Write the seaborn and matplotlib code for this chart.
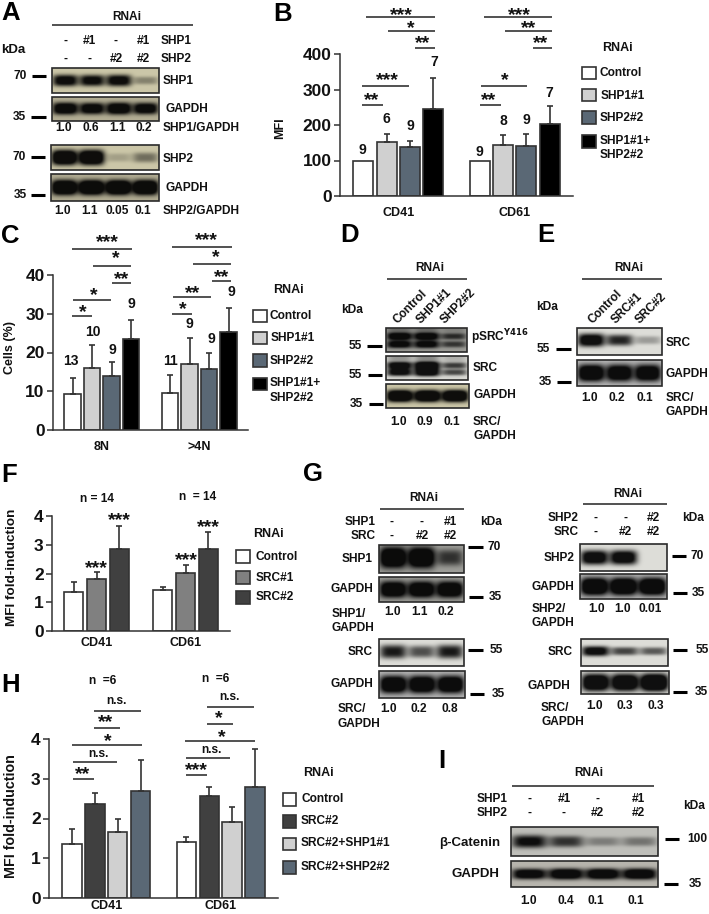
import numpy as np
import pandas as pd
import matplotlib
matplotlib.use('Agg')
import matplotlib.pyplot as plt
from matplotlib.patches import Rectangle
import seaborn as sns

# bar panels
B_GROUPS = ['CD41', 'CD61']
B_RNAI = ['Control', 'SHP1#1', 'SHP2#2', 'SHP1#1+SHP2#2']
B_MEAN = [[100, 152, 139, 246], [100, 145, 141, 203]]
B_TOP = [[100, 176, 156, 331], [100, 172, 174, 253]]

C_GROUPS = ['8N', '>4N']
C_MEAN = [[9.2, 15.9, 13.9, 23.4], [9.5, 17.0, 15.8, 25.3]]
C_TOP = [[13.4, 21.9, 17.5, 28.3], [14.1, 23.7, 20.0, 31.6]]

F_RNAI = ['Control', 'SRC#1', 'SRC#2']
F_MEAN = [[1.35, 1.82, 2.85], [1.42, 2.02, 2.85]]
F_TOP = [[1.72, 2.06, 3.66], [1.52, 2.30, 3.45]]

H_RNAI = ['Control', 'SRC#2', 'SRC#2+SHP1#1', 'SRC#2+SHP2#2']
H_MEAN = [[1.36, 2.36, 1.65, 2.68], [1.42, 2.56, 1.90, 2.80]]
H_TOP = [[1.74, 2.63, 1.99, 3.48], [1.53, 2.78, 2.29, 3.76]]

# band strength per lane, read by eye from the blots
A_SHP1 = [1.1, 1.05, 1.1, 0.35]
A_GAPDH1 = [1.3, 1.2, 1.3, 1.2]
A_SHP2 = [1.5, 1.5, 0.2, 0.45]
A_GAPDH2 = [1.6, 1.6, 1.6, 1.6]
D_PSRC = [1.0, 1.0, 0.6]
D_SRC = [0.95, 1.1, 0.6]
D_GAPDH = [1.5, 1.5, 1.5]
E_SRC = [1.2, 0.85, 0.3]
E_GAPDH = [1.4, 1.3, 1.3]
G1_SHP1 = [1.5, 1.5, 0.7]
G1_GAPDH1 = [1.4, 1.4, 1.4]
G1_SRC = [0.9, 0.65, 0.9]
G1_GAPDH2 = [1.4, 1.4, 1.4]
G2_SHP2 = [1.2, 1.2, 0.0]
G2_GAPDH1 = [1.5, 1.5, 1.5]
G2_SRC = [1.1, 0.7, 0.6]
G2_GAPDH2 = [1.4, 1.4, 1.6]
I_CAT = [1.0, 0.75, 0.35, 0.4]
I_GAPDH = [1.2, 1.3, 1.3, 1.3]

WIDTH, HEIGHT = 709, 914
sns.set_theme(style='ticks')
plt.rcParams['font.family'] = ['Liberation Sans', 'DejaVu Sans']
plt.rcParams['font.weight'] = 'bold'
plt.rcParams['axes.labelweight'] = 'bold'

fig = plt.figure(figsize=(WIDTH / 100, HEIGHT / 100), dpi=100, facecolor='white')
ov = fig.add_axes([0, 0, 1, 1], zorder=5)
ov.patch.set_alpha(0)
ov.axis('off')

DARK = '#333333'
BLUE = '#5a6875'
LIGHT = '#d0d0d0'


def bar_panel(x0, x1, y_top, y_bot, groups, names, means, tops, colors, ymax, ticks,
              ylabel, ylab_x, ylab_y, ylab_size=9, xpad=8, width=0.8, gap=0.15):
    ax = fig.add_axes([x0 / WIDTH, 1 - y_bot / HEIGHT, (x1 - x0) / WIDTH, (y_bot - y_top) / HEIGHT])
    ax.patch.set_alpha(0)
    rows = []
    for g, ms in zip(groups, means):
        for n, m in zip(names, ms):
            rows.append({'group': g, 'rnai': n, 'value': m})
    df = pd.DataFrame(rows)
    sns.barplot(data=df, x='group', y='value', hue='rnai', hue_order=names, palette=colors,
                saturation=1, edgecolor=DARK, linewidth=1.2, width=width, gap=gap,
                legend=False, ax=ax)
    for k, cont in enumerate(list(ax.containers)):
        for j, bar in enumerate(cont):
            h = bar.get_height()
            up = tops[j][k] - h
            if up > 0:
                ax.errorbar(bar.get_x() + bar.get_width() / 2, h, yerr=[[0], [up]], color=DARK,
                            lw=1.2, capsize=2.4, capthick=1.2)
    ax.set_xlim(-0.5, 1.5)
    ax.set_ylim(0, ymax)
    ax.set_yticks(ticks)
    ax.set_xlabel('')
    ax.set_ylabel('')
    ax.tick_params(axis='y', labelsize=12.5, length=4, width=1.1, pad=2, color=DARK, labelcolor='#111111')
    ax.tick_params(axis='x', labelsize=9, length=0, pad=xpad, labelcolor='#111111')
    sns.despine(ax=ax)
    for s in ['left', 'bottom']:
        ax.spines[s].set_linewidth(1.1)
        ax.spines[s].set_color(DARK)
    ov.text(ylab_x, ylab_y, ylabel, rotation=90, ha='center', va='center', fontsize=ylab_size, color='#111111')
    return ax


def label(x, y, s, ha='left', size=8.6, **kw):
    ov.text(x, y, s, ha=ha, va='center', fontsize=size, color='#111111', **kw)


def letter(x, y, s):
    # y is the middle of the capital
    ov.text(x, y + 9, s, ha='left', va='baseline', fontsize=18.5, color='black')


def hline(x0, x1, y, lw=1.1):
    ov.plot([x0, x1], [y, y], color='#222222', lw=lw, solid_capstyle='butt')


def stars(x, y, s):
    ov.text(x, y + 3, s, ha='center', va='center', fontsize=14, color='#111111')


def sig(x0, x1, y, s, sx, sy):
    hline(x0, x1, y)
    if s == 'n.s.':
        ov.text(sx, sy, s, ha='center', va='center', fontsize=8.6, color='#111111')
    else:
        stars(sx, sy, s)


def swatches(x0, x1, boxes, colors):
    for (y0, y1), c in zip(boxes, colors):
        ov.add_patch(Rectangle((x0, y0), x1 - x0, y1 - y0, fc=c, ec=DARK, lw=1.2))


def marker(x0, x1, y, s, tx):
    ov.plot([x0, x1], [y, y], color='black', lw=2.2, solid_capstyle='butt')
    label(tx, y, s, ha='center')


def blot(x0, x1, y0, y1, strengths, tint=(0.85, 0.85, 0.85), rows=(0.5,), thick=0.22, smear=0.0):
    w, h = max(int(x1 - x0) * 2, 2), max(int(y1 - y0) * 2, 2)
    xx, yy = np.meshgrid((np.arange(w) + 0.5) / w, (np.arange(h) + 0.5) / h)
    dark = np.zeros((h, w))
    n = len(strengths)
    for i, s in enumerate(strengths):
        c = (i + 0.5) / n
        across = np.exp(-(np.abs(xx - c) / (0.47 / n)) ** 4)
        for r in rows:
            t = thick * (0.6 + 0.5 * min(s, 1.3))
            dark += s * across * np.exp(-(np.abs(yy - r) / t) ** 3)
        if smear:
            dark += smear * s * across * np.clip(1.1 - yy, 0, 1)
    val = 1 - np.clip(dark, 0, 0.93)
    img = np.dstack([val * t for t in tint])
    ov.imshow(img, extent=[x0, x1, y1, y0], aspect='auto', interpolation='bilinear', zorder=1)
    ov.add_patch(Rectangle((x0, y0), x1 - x0, y1 - y0, fc='none', ec='#2a2a2a', lw=1.2, zorder=2))


def row_text(xs, y, items):
    for x, s in zip(xs, items):
        label(x, y, s, ha='center')


KHAKI = (0.80, 0.78, 0.66)
OLIVE = (0.70, 0.68, 0.58)
PALE = (0.87, 0.87, 0.85)
GREY = (0.72, 0.72, 0.72)
MID = (0.62, 0.62, 0.60)

# ---- A
letter(1, 11, 'A')
label(127, 17, 'RNAi', ha='center')
hline(52, 193, 25)
row_text([65, 89, 116, 143], 41, ['-', '#1', '-', '#1'])
row_text([65, 89, 116, 143], 59, ['-', '-', '#2', '#2'])
label(161, 41, 'SHP1')
label(161, 59, 'SHP2')
label(1, 50, 'kDa', size=9.5)
blot(52, 159, 68, 93, A_SHP1, KHAKI, thick=0.2)
blot(52, 159, 97, 121, A_GAPDH1, OLIVE, rows=(0.48,), thick=0.2)
blot(51, 159, 145, 170, A_SHP2, KHAKI, thick=0.24)
blot(51, 159, 174, 201, A_GAPDH2, OLIVE, thick=0.22)
marker(32, 46, 76, '70', 20)
marker(31, 46, 117, '35', 19)
marker(31, 45, 157, '70', 19)
marker(31, 45, 195, '35', 20)
label(163, 81, 'SHP1')
label(165, 109, 'GAPDH')
label(163, 159, 'SHP2')
label(165, 188, 'GAPDH')
row_text([64, 91, 117, 144], 128, ['1.0', '0.6', '1.1', '0.2'])
label(163, 128, 'SHP1/GAPDH')
row_text([63, 89, 117, 143], 211, ['1.0', '1.1', '0.05', '0.1'])
label(163, 211, 'SHP2/GAPDH')

# ---- B
letter(273, 12, 'B')
bar_panel(340, 573, 54, 196, B_GROUPS, B_RNAI, B_MEAN, B_TOP, ['white', LIGHT, BLUE, 'black'],
          400, [0, 100, 200, 300, 400], 'MFI', 280, 128)
sig(366, 435, 17, '***', 401, 13)
sig(388, 435, 31, '*', 411, 26)
sig(415, 435, 48, '**', 423, 41)
sig(362, 409, 86, '***', 387, 78)
sig(362, 383, 105, '**', 372, 98)
sig(484, 552, 17, '***', 519, 13)
sig(505, 552, 31, '**', 529, 26)
sig(533, 552, 48, '**', 541, 41)
sig(481, 527, 86, '*', 505, 78)
sig(480, 501, 105, '**', 489, 98)
for x, y, s in [(362, 150, '9'), (386, 119, '6'), (410, 126, '9'), (434, 62, '7'),
                (479, 152, '9'), (503, 121, '8'), (526, 120, '9'), (549, 93, '7')]:
    label(x, y, s, ha='center', size=10)
label(617, 48, 'RNAi', ha='center', size=9)
swatches(582, 596, [(67, 79), (89, 101), (111, 124), (135, 148)], ['white', LIGHT, BLUE, 'black'])
label(600, 73, 'Control')
label(601, 96, 'SHP1#1')
label(600, 118, 'SHP2#2')
label(600, 141, 'SHP1#1+')
label(600, 155, 'SHP2#2')

# ---- C
letter(1, 234, 'C')
bar_panel(53, 248, 275, 430, C_GROUPS, B_RNAI, C_MEAN, C_TOP, ['white', LIGHT, BLUE, 'black'],
          40, [0, 10, 20, 30, 40], 'Cells (%)', 10, 347)
sig(72, 132, 249, '***', 107, 240)
sig(93, 131, 266, '*', 116, 256)
sig(112, 131, 283, '**', 122, 277)
sig(73, 111, 300, '*', 94, 293)
sig(72, 92, 316, '*', 83, 310)
sig(172, 232, 247, '***', 206, 238)
sig(193, 231, 264, '*', 216, 255)
sig(212, 231, 281, '**', 222, 275)
sig(173, 211, 297, '**', 193, 291)
sig(172, 192, 314, '*', 183, 307)
for x, y, s in [(71, 361, '13'), (93, 332, '10'), (112, 350, '9'), (131, 304, '9'),
                (171, 361, '11'), (189, 324, '9'), (211, 339, '9'), (231, 292, '9')]:
    label(x, y, s, ha='center', size=10)
label(288, 290, 'RNAi', ha='center', size=9)
swatches(253, 267, [(310, 322), (332, 344), (354, 367), (378, 390)], ['white', LIGHT, BLUE, 'black'])
label(270, 316, 'Control')
label(271, 338, 'SHP1#1')
label(270, 361, 'SHP2#2')
label(270, 383, 'SHP1#1+')
label(270, 398, 'SHP2#2')

# ---- D
letter(340, 233, 'D')
label(430, 268, 'RNAi', ha='center')
hline(387, 467, 279)
for x, s in zip([395, 419, 443], ['Control', 'SHP1#1', 'SHP2#2']):
    ov.text(x, 322, s, rotation=45, rotation_mode='anchor', ha='left', va='center', fontsize=8.6, color='#111111')
label(352, 310, 'kDa', ha='center')
blot(386, 467, 328, 352, D_PSRC, MID, rows=(0.35, 0.68), thick=0.14, smear=0.35)
blot(386, 468, 356, 380, D_SRC, PALE, rows=(0.4, 0.68), thick=0.14, smear=0.35)
blot(386, 469, 384, 408, D_GAPDH, KHAKI, thick=0.2)
marker(367, 382, 346, '55', 355)
marker(368, 382, 375, '55', 355)
marker(369, 383, 404, '35', 356)
label(471, 337, 'pSRC$^{\\mathbf{Y416}}$')
label(473, 368, 'SRC')
label(473, 395, 'GAPDH')
row_text([399, 425, 452], 422, ['1.0', '0.9', '0.1'])
label(473, 422, 'SRC/')
label(473, 436, 'GAPDH')

# ---- E
letter(537, 233, 'E')
label(629, 268, 'RNAi', ha='center')
hline(582, 662, 279)
for x, s in zip([590, 614, 638], ['Control', 'SRC#1', 'SRC#2']):
    ov.text(x, 322, s, rotation=45, rotation_mode='anchor', ha='left', va='center', fontsize=8.6, color='#111111')
label(547, 307, 'kDa', ha='center')
blot(577, 662, 328, 355, E_SRC, PALE, rows=(0.45,), thick=0.2)
blot(577, 662, 360, 386, E_GAPDH, GREY, thick=0.26)
marker(556, 571, 349, '55', 543)
marker(557, 571, 382, '35', 545)
label(666, 343, 'SRC')
label(666, 374, 'GAPDH')
row_text([590, 617, 645], 398, ['1.0', '0.2', '0.1'])
label(666, 398, 'SRC/')
label(666, 412, 'GAPDH')

# ---- F
letter(1, 473, 'F')
F_COLORS = ['white', '#808080', '#404040']
bar_panel(52, 230, 516, 631, B_GROUPS, F_RNAI, F_MEAN, F_TOP, F_COLORS, 4, [0, 1, 2, 3, 4],
          'MFI fold-induction', 12, 567, ylab_size=9.7, xpad=4, width=0.76, gap=0.16)
label(97, 499, 'n = 14', ha='center')
label(198, 497, 'n  = 14', ha='center')
for x, y in [(119, 518), (208, 525), (96, 566), (186, 558)]:
    stars(x, y, '***')
label(268, 534, 'RNAi', ha='center', size=9)
swatches(236, 250, [(550, 563), (571, 584), (591, 604)], F_COLORS)
label(256, 557, 'Control')
label(256, 578, 'SRC#1')
label(256, 597, 'SRC#2')

# ---- G
letter(303, 472, 'G')
label(424, 498, 'RNAi', ha='center')
hline(380, 464, 509)
label(376, 522, 'SHP1', ha='right')
label(376, 536, 'SRC', ha='right')
row_text([392, 422, 450], 522, ['-', '-', '#1'])
row_text([392, 422, 450], 536, ['-', '#2', '#2'])
label(491, 522, 'kDa', ha='center')
blot(379, 464, 545, 573, G1_SHP1, MID, rows=(0.45,), thick=0.3)
blot(379, 464, 577, 602, G1_GAPDH1, MID, thick=0.26)
blot(379, 464, 639, 666, G1_SRC, PALE, rows=(0.47,), thick=0.24)
blot(379, 465, 671, 698, G1_GAPDH2, GREY, thick=0.26)
label(373, 559, 'SHP1', ha='right')
label(373, 589, 'GAPDH', ha='right')
label(373, 652, 'SRC', ha='right')
label(373, 684, 'GAPDH', ha='right')
marker(468, 483, 547, '70', 494)
marker(469, 483, 597, '35', 495)
marker(468, 483, 650, '55', 496)
marker(470, 484, 694, '35', 498)
row_text([393, 419, 446], 612, ['1.0', '1.1', '0.2'])
label(332, 614, 'SHP1/')
label(332, 628, 'GAPDH')
row_text([389, 419, 450], 709, ['1.0', '0.2', '0.8'])
label(338, 709, 'SRC/')
label(338, 724, 'GAPDH')

label(628, 494, 'RNAi', ha='center')
hline(583, 667, 504)
label(579, 518, 'SHP2', ha='right')
label(579, 532, 'SRC', ha='right')
row_text([595, 625, 653], 518, ['-', '-', '#2'])
row_text([595, 625, 653], 532, ['-', '#2', '#2'])
label(693, 518, 'kDa', ha='center')
blot(580, 667, 544, 571, G2_SHP2, PALE, rows=(0.5,), thick=0.22)
blot(580, 667, 574, 599, G2_GAPDH1, GREY, thick=0.28)
blot(581, 668, 639, 666, G2_SRC, PALE, rows=(0.45,), thick=0.16)
blot(581, 669, 671, 694, G2_GAPDH2, PALE, thick=0.3)
label(575, 558, 'SHP2', ha='right')
label(574, 587, 'GAPDH', ha='right')
label(573, 652, 'SRC', ha='right')
label(570, 686, 'GAPDH', ha='right')
marker(672, 686, 556, '70', 697)
marker(673, 687, 593, '35', 698)
marker(673, 687, 650, '55', 702)
marker(673, 687, 692, '35', 701)
row_text([597, 623, 650], 609, ['1.0', '1.0', '0.01'])
label(532, 609, 'SHP2/')
label(532, 623, 'GAPDH')
row_text([595, 625, 656], 706, ['1.0', '0.3', '0.3'])
label(541, 708, 'SRC/')
label(541, 722, 'GAPDH')

# ---- H
letter(1, 683, 'H')
H_COLORS = ['white', '#404040', LIGHT, BLUE]
bar_panel(49, 278, 739, 898, B_GROUPS, H_RNAI, H_MEAN, H_TOP, H_COLORS, 4, [0, 1, 2, 3, 4],
          'MFI fold-induction', 11, 816, ylab_size=10.3, xpad=1.5)
label(103, 681, 'n  =6', ha='center')
label(216, 679, 'n  =6', ha='center')
sig(94, 141, 711, 'n.s.', 116, 701)
sig(94, 120, 728, '**', 106, 720)
sig(72, 142, 745, '*', 108, 739)
sig(73, 117, 762, 'n.s.', 98, 754)
sig(73, 94, 779, '**', 83, 772)
sig(207, 254, 707, 'n.s.', 229, 697)
sig(207, 233, 724, '*', 219, 716)
sig(185, 255, 741, '*', 222, 735)
sig(186, 230, 758, 'n.s.', 211, 750)
sig(186, 207, 775, '***', 196, 768)
label(318, 773, 'RNAi', ha='center', size=9)
swatches(283, 296, [(793, 806), (815, 828), (838, 850), (861, 874)], H_COLORS)
label(301, 799, 'Control')
label(301, 821, 'SRC#2')
label(301, 843, 'SRC#2+SHP1#1')
label(301, 867, 'SRC#2+SHP2#2')

# ---- I
letter(438, 759, 'I')
label(589, 773, 'RNAi', ha='center')
hline(512, 654, 786)
label(508, 799, 'SHP1', ha='right')
label(508, 813, 'SHP2', ha='right')
row_text([530, 564, 597, 638], 799, ['-', '#1', '-', '#1'])
row_text([530, 564, 597, 638], 813, ['-', '-', '#2', '#2'])
label(694, 806, 'kDa', ha='center')
blot(511, 658, 827, 856, I_CAT, (0.75, 0.75, 0.73), rows=(0.5,), thick=0.2)
blot(511, 658, 861, 887, I_GAPDH, (0.72, 0.71, 0.68), rows=(0.5,), thick=0.17)
label(439, 843, 'β-Catenin', size=9.5)
label(452, 874, 'GAPDH', size=9.5)
marker(665, 679, 839, '100', 697)
marker(664, 678, 884, '35', 695)
row_text([529, 566, 596, 636], 901, ['1.0', '0.4', '0.1', '0.1'])

ov.set_xlim(0, WIDTH)
ov.set_ylim(HEIGHT, 0)
fig.savefig('out.png', dpi=100, facecolor='white')
